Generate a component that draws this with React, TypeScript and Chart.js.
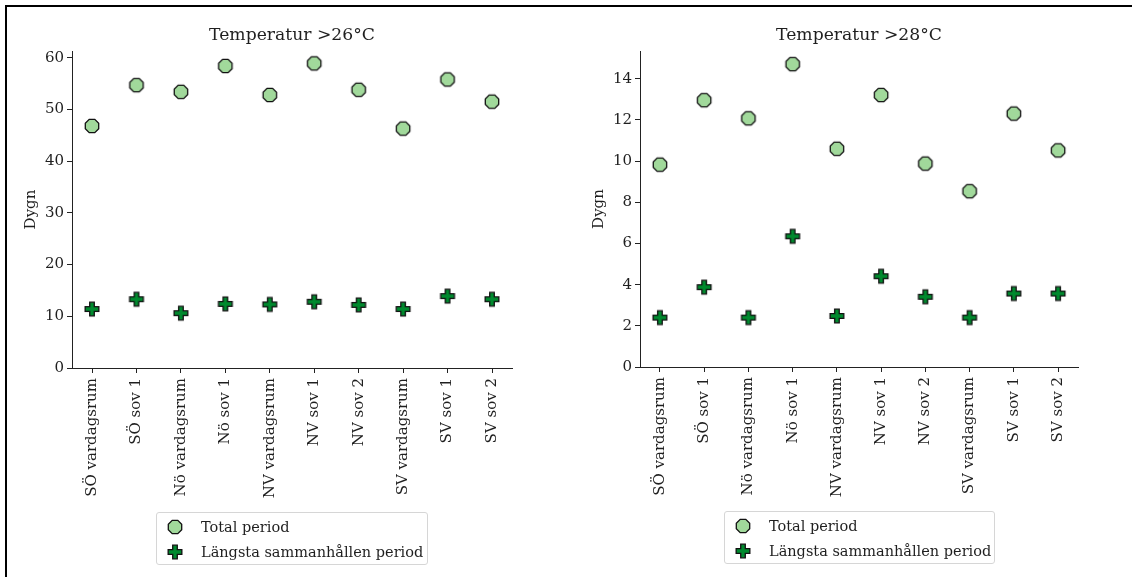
import React, { useEffect, useRef } from "react";
import { Chart, registerables } from "chart.js";

Chart.register(...registerables);

// ---------- data ----------
const categories = [
  "SÖ vardagsrum",
  "SÖ sov 1",
  "Nö vardagsrum",
  "Nö sov 1",
  "NV vardagsrum",
  "NV sov 1",
  "NV sov 2",
  "SV vardagsrum",
  "SV sov 1",
  "SV sov 2",
];
const seriesNames = ["Total period", "Längsta sammanhållen period"];
const titles = ["Temperatur >26°C", "Temperatur >28°C"];
const yAxisTitle = "Dygn";

const total26 = [46.8, 54.7, 53.4, 58.4, 52.8, 58.9, 53.8, 46.3, 55.8, 51.5];
const longest26 = [11.4, 13.3, 10.6, 12.4, 12.3, 12.8, 12.2, 11.4, 13.9, 13.3];
const total28 = [9.83, 12.96, 12.08, 14.71, 10.6, 13.21, 9.88, 8.54, 12.31, 10.52];
const longest28 = [2.4, 3.88, 2.4, 6.35, 2.48, 4.41, 3.41, 2.4, 3.57, 3.57];

const yTicks26 = [0, 10, 20, 30, 40, 50, 60];
const yTicks28 = [0, 2, 4, 6, 8, 10, 12, 14];
const yMax26 = 61.3;
const yMax28 = 15.35;

// ---------- style ----------
const FONT = "'DejaVu Serif', serif";
const TEXT = "#1f1f1f";
const AXIS = "#222222";
const FILL_TOTAL = "#a1d99b";
const FILL_LONG = "#008a2e";
const EDGE = "#111111";
const TICK_SIZE = 15;
const TITLE_SIZE = 17.2;
const LEGEND_SIZE = 14.5;

type Pt = [number, number];

function octagonPts(cx: number, cy: number, r: number): Pt[] {
  const pts: Pt[] = [];
  for (let k = 0; k < 8; k++) {
    const a = Math.PI / 8 + (k * Math.PI) / 4;
    pts.push([cx + r * Math.cos(a), cy + r * Math.sin(a)]);
  }
  return pts;
}

function plusPts(cx: number, cy: number, u: number): Pt[] {
  const base: Pt[] = [
    [-1, -3], [1, -3], [1, -1], [3, -1], [3, 1], [1, 1],
    [1, 3], [-1, 3], [-1, 1], [-3, 1], [-3, -1], [-1, -1],
  ];
  return base.map(([a, b]) => [cx + a * u, cy + b * u] as Pt);
}

function makeMarker(pts: Pt[], size: number, fill: string): HTMLCanvasElement {
  const c = document.createElement("canvas");
  c.width = size;
  c.height = size;
  const ctx = c.getContext("2d")!;
  ctx.beginPath();
  pts.forEach(([x, y], i) => (i ? ctx.lineTo(x, y) : ctx.moveTo(x, y)));
  ctx.closePath();
  ctx.fillStyle = fill;
  ctx.fill();
  ctx.lineWidth = 1.3;
  ctx.strokeStyle = EDGE;
  ctx.lineJoin = "miter";
  ctx.stroke();
  return c;
}

const OCT_R = 7.25;
const PLUS_U = 2.28;

interface PanelSpec {
  title: string;
  total: number[];
  longest: number[];
  yTicks: number[];
  yMax: number;
  yWidth: number;
  rightPad: number;
  yTitlePad: number;
  xHeight: number;
}

function buildConfig(p: PanelSpec, oct: HTMLCanvasElement, plus: HTMLCanvasElement): any {
  const tickFont = { family: FONT, size: TICK_SIZE };
  return {
    type: "line",
    data: {
      datasets: [
        {
          label: seriesNames[0],
          data: p.total.map((v, i) => ({ x: i, y: v })),
          showLine: false,
          pointStyle: oct,
          pointRadius: 8,
          pointHoverRadius: 8,
          backgroundColor: FILL_TOTAL,
          borderColor: EDGE,
          xAxisID: "x",
          yAxisID: "y",
        },
        {
          label: seriesNames[1],
          data: p.longest.map((v, i) => ({ x: i, y: v })),
          showLine: false,
          pointStyle: plus,
          pointRadius: 8,
          pointHoverRadius: 8,
          backgroundColor: FILL_LONG,
          borderColor: EDGE,
          xAxisID: "x",
          yAxisID: "y",
        },
      ],
    },
    options: {
      animation: false,
      responsive: false,
      maintainAspectRatio: false,
      events: [],
      layout: { padding: 0 },
      plugins: {
        legend: { display: false },
        tooltip: { enabled: false },
        title: {
          display: true,
          text: p.title,
          color: TEXT,
          font: { family: FONT, size: TITLE_SIZE, weight: "normal" },
          padding: { top: 25.7, bottom: 4.66 },
        },
      },
      scales: {
        x: {
          type: "linear",
          position: "bottom",
          min: -0.45,
          max: categories.length - 1 + 0.45,
          afterBuildTicks: (s: any) => {
            s.ticks = categories.map((_, i) => ({ value: i }));
          },
          afterFit: (s: any) => {
            s.height = p.xHeight;
          },
          ticks: {
            autoSkip: false,
            maxRotation: 90,
            minRotation: 90,
            padding: 5,
            color: TEXT,
            font: tickFont,
            callback: (v: any) => categories[Math.round(Number(v))] ?? "",
          },
          grid: {
            drawOnChartArea: false,
            drawTicks: true,
            tickLength: 5,
            color: AXIS,
            lineWidth: 1,
          },
          border: { display: true, color: AXIS, width: 1 },
        },
        y: {
          type: "linear",
          position: "left",
          min: 0,
          max: p.yMax,
          afterBuildTicks: (s: any) => {
            s.ticks = p.yTicks.map((v) => ({ value: v }));
          },
          afterFit: (s: any) => {
            s.width = p.yWidth;
          },
          ticks: {
            padding: 3,
            color: TEXT,
            font: tickFont,
            callback: (v: any) => String(v),
          },
          grid: {
            drawOnChartArea: false,
            drawTicks: true,
            tickLength: 5,
            color: AXIS,
            lineWidth: 1,
          },
          border: { display: true, color: AXIS, width: 1 },
          title: {
            display: true,
            text: yAxisTitle,
            color: TEXT,
            font: { family: FONT, size: TICK_SIZE },
            padding: { top: p.yTitlePad, bottom: 0 },
          },
        },
        yPad: {
          type: "linear",
          position: "right",
          display: true,
          grid: { display: false },
          border: { display: false },
          ticks: { display: false },
          afterFit: (s: any) => {
            s.width = p.rightPad;
          },
        },
      },
    },
  };
}

const panels: (PanelSpec & { left: number; width: number; legendLeft: number; legendTop: number; legendWidth: number })[] = [
  {
    title: titles[0],
    total: total26,
    longest: longest26,
    yTicks: yTicks26,
    yMax: yMax26,
    yWidth: 72,
    rightPad: 72,
    yTitlePad: 22,
    xHeight: 577 - 368,
    left: 0,
    width: 584,
    legendLeft: 156,
    legendTop: 512,
    legendWidth: 272,
  },
  {
    title: titles[1],
    total: total28,
    longest: longest28,
    yTicks: yTicks28,
    yMax: yMax28,
    yWidth: 54,
    rightPad: 54,
    yTitlePad: 4,
    xHeight: 577 - 367,
    left: 586,
    width: 546,
    legendLeft: 724,
    legendTop: 511,
    legendWidth: 271,
  },
];

function ptsToStr(pts: Pt[]): string {
  return pts.map(([x, y]) => `${x.toFixed(2)},${y.toFixed(2)}`).join(" ");
}

function Legend(props: { left: number; top: number; width: number }) {
  const rowStyle: React.CSSProperties = {
    position: "absolute",
    left: 0,
    height: 25,
    display: "flex",
    alignItems: "center",
    whiteSpace: "nowrap",
  };
  return (
    <div
      style={{
        position: "absolute",
        left: props.left,
        top: props.top,
        width: props.width,
        height: 53,
        boxSizing: "border-box",
        border: "1px solid #d6d6d6",
        borderRadius: 3,
        background: "rgba(255,255,255,0.8)",
        fontFamily: FONT,
        fontSize: LEGEND_SIZE,
        color: TEXT,
      }}
    >
      {seriesNames.map((name, i) => (
        <div key={name} style={{ ...rowStyle, top: 1 + i * 25 }}>
          <svg width={18} height={18} style={{ marginLeft: 9 }}>
            <polygon
              points={ptsToStr(i === 0 ? octagonPts(9, 9, OCT_R) : plusPts(9, 9, PLUS_U))}
              fill={i === 0 ? FILL_TOTAL : FILL_LONG}
              stroke={EDGE}
              strokeWidth={1.3}
            />
          </svg>
          <span style={{ marginLeft: 17 }}>{name}</span>
        </div>
      ))}
    </div>
  );
}

function Panel(props: { spec: (typeof panels)[number] }) {
  const ref = useRef<HTMLCanvasElement | null>(null);
  useEffect(() => {
    if (!ref.current) return;
    const oct = makeMarker(octagonPts(9, 9, OCT_R), 18, FILL_TOTAL);
    const plus = makeMarker(plusPts(9, 9, PLUS_U), 18, FILL_LONG);
    const chart = new Chart(ref.current, buildConfig(props.spec, oct, plus));
    return () => chart.destroy();
  }, [props.spec]);
  return (
    <canvas
      ref={ref}
      width={props.spec.width}
      height={577}
      style={{
        position: "absolute",
        left: props.spec.left,
        top: 0,
        width: props.spec.width,
        height: 577,
      }}
    />
  );
}

export default function App() {
  return (
    <div
      style={{
        position: "absolute",
        left: 0,
        top: 0,
        width: 1132,
        height: 577,
        background: "#ffffff",
        overflow: "hidden",
      }}
    >
      {panels.map((p) => (
        <Panel key={p.title} spec={p} />
      ))}
      {panels.map((p) => (
        <Legend key={"lg" + p.title} left={p.legendLeft} top={p.legendTop} width={p.legendWidth} />
      ))}
      <div style={{ position: "absolute", left: 5, top: 5, width: 1127, height: 2, background: "#000" }} />
      <div style={{ position: "absolute", left: 5, top: 5, width: 2, height: 572, background: "#000" }} />
    </div>
  );
}
